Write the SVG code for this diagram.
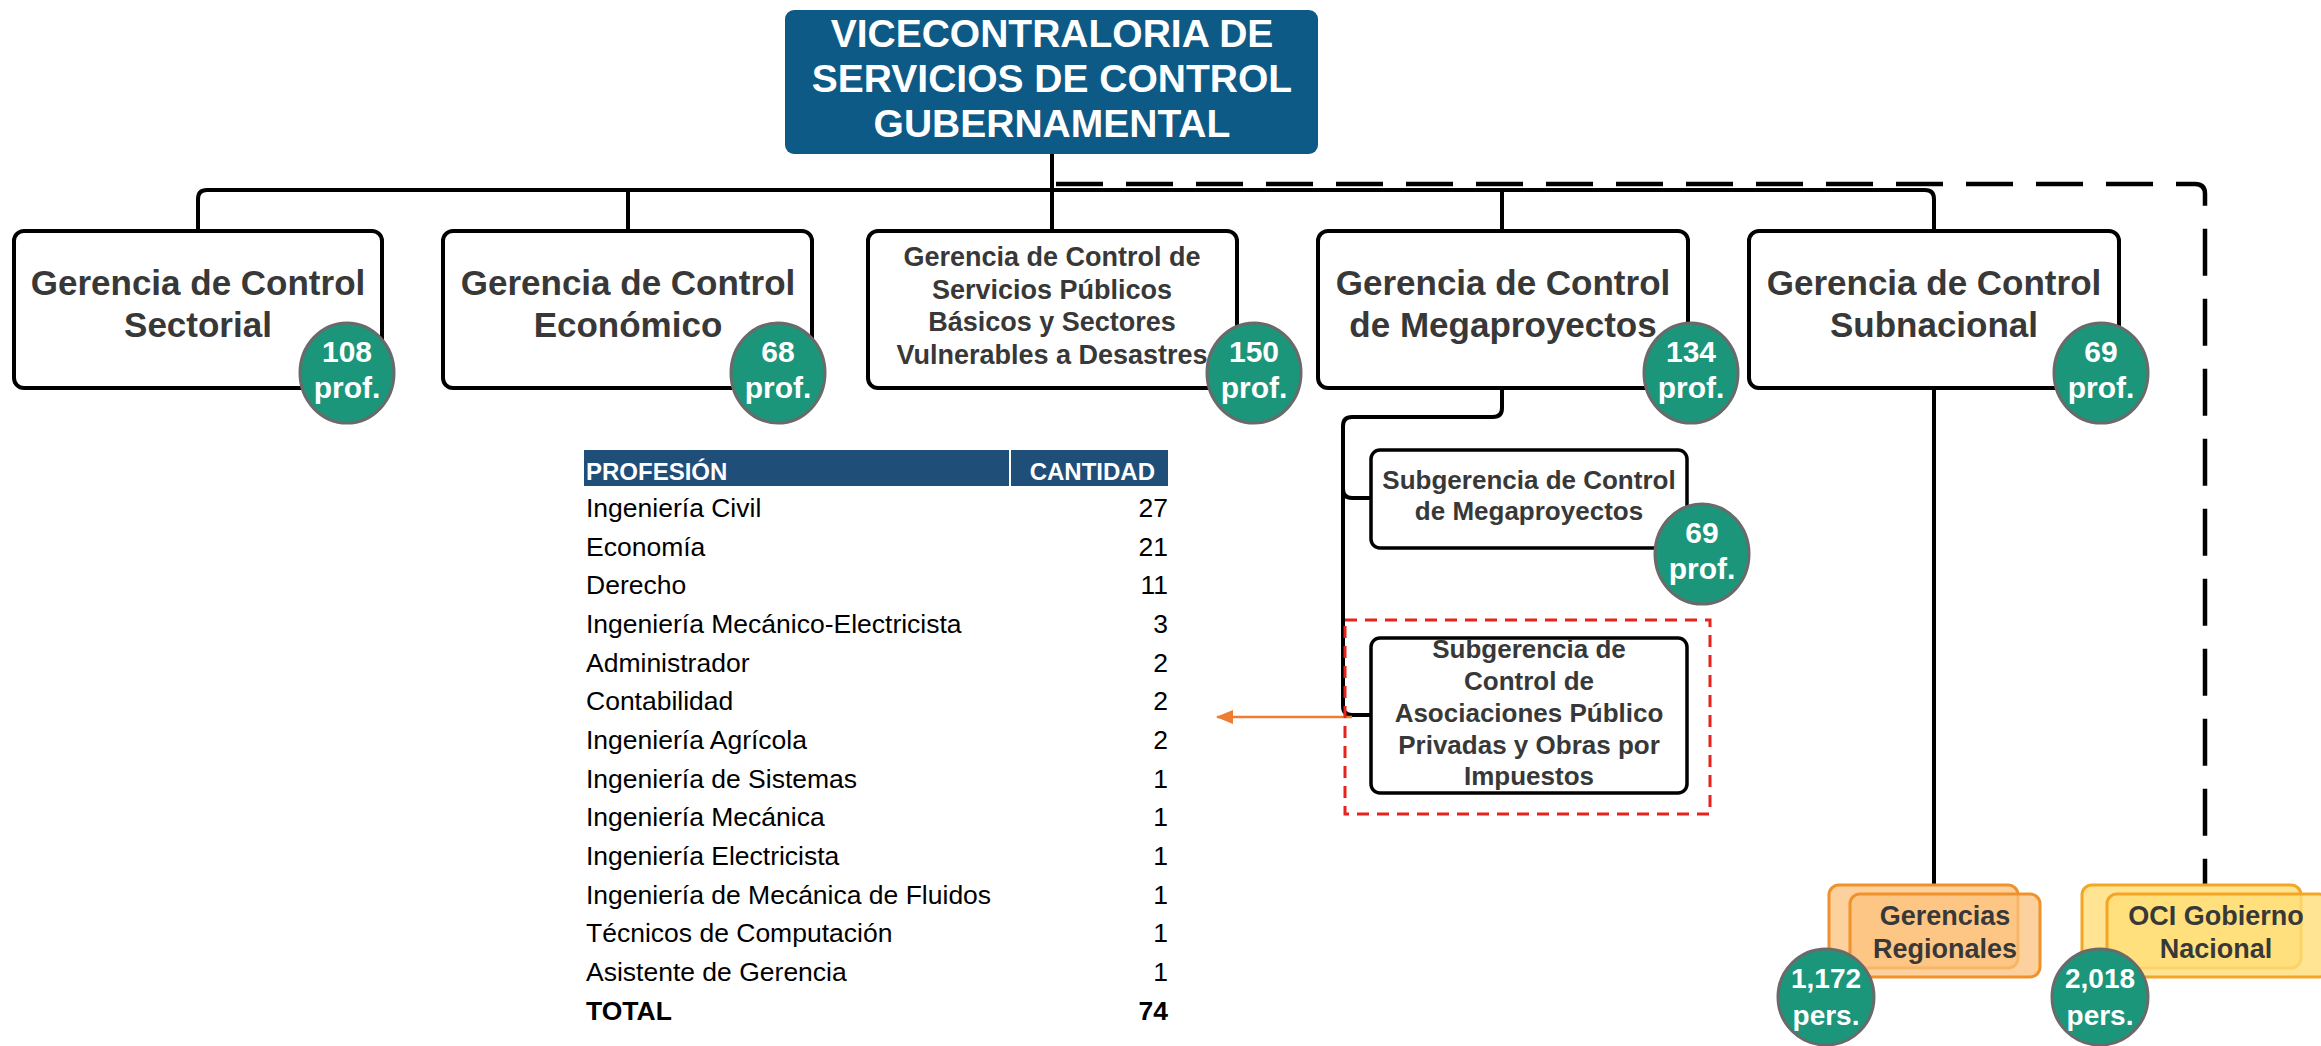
<svg xmlns="http://www.w3.org/2000/svg" width="2321" height="1046" viewBox="0 0 2321 1046">
<defs>
<style>
.t{font-family:"Liberation Sans",Arial,sans-serif}
.box{fill:#fff;stroke:#000;stroke-width:4}
.sub{fill:#fff;stroke:#000;stroke-width:3.5}
.lbl{font-family:"Liberation Sans",Arial,sans-serif;font-weight:bold;fill:#383838;text-anchor:middle}
.badge{fill:#1c967a;stroke:#6a6a6a;stroke-width:3}
.bt{font-family:"Liberation Sans",Arial,sans-serif;font-weight:bold;fill:#fff;text-anchor:middle}
.ln{fill:none;stroke:#000;stroke-width:4;stroke-linejoin:round}
.tb{font-family:"Liberation Sans",Arial,sans-serif;font-size:26.5px;fill:#000}
.num{text-anchor:end}
</style>
<marker id="ah" markerWidth="17" markerHeight="14" refX="16" refY="7" orient="auto" markerUnits="userSpaceOnUse">
<path d="M0,0 L17,7 L0,14 z" fill="#ed7d31"/>
</marker>
</defs>
<rect width="2321" height="1046" fill="#fff"/>

<g id="connectors">
<path class="ln" d="M1052,154 V231"/>
<path class="ln" d="M198,231 V199 Q198,190 207,190 H1925 Q1934,190 1934,199 V231"/>
<path class="ln" d="M628,190 V231"/>
<path class="ln" d="M1502,190 V231"/>
<path class="ln" d="M1502,388 V408 Q1502,417 1493,417 H1352 Q1343,417 1343,426 V706 Q1343,715 1352,715 H1371"/>
<path class="ln" d="M1343,489 Q1343,498 1352,498 H1371"/>
<path class="ln" d="M1934,388 V885"/>
<path fill="none" stroke="#000" stroke-width="4.5" stroke-dasharray="47 23" d="M1056,184 H2195 Q2205,184 2205,194 V885"/>
<line x1="1352" y1="717" x2="1217" y2="717" stroke="#ed7d31" stroke-width="2.5" marker-end="url(#ah)"/>
</g>

<g id="vicecontraloria">
<rect x="785" y="10" width="533" height="144" rx="9" fill="#0d5a86"/>
<text class="bt" font-size="39" x="1052"><tspan x="1052" y="47">VICECONTRALORIA DE</tspan><tspan x="1052" y="92">SERVICIOS DE CONTROL</tspan><tspan x="1052" y="137">GUBERNAMENTAL</tspan></text>
</g>

<g id="sectorial">
<rect class="box" x="14" y="231" width="368" height="157" rx="10"/>
<text class="lbl" font-size="35"><tspan x="198" y="295">Gerencia de Control</tspan><tspan x="198" y="337">Sectorial</tspan></text>
<ellipse class="badge" cx="347" cy="373" rx="47" ry="50"/>
<text class="bt" font-size="30"><tspan x="347" y="362">108</tspan><tspan x="347" y="398">prof.</tspan></text>
</g>

<g id="economico">
<rect class="box" x="443" y="231" width="369" height="157" rx="10"/>
<text class="lbl" font-size="35"><tspan x="628" y="295">Gerencia de Control</tspan><tspan x="628" y="337">Económico</tspan></text>
<ellipse class="badge" cx="778" cy="373" rx="47" ry="50"/>
<text class="bt" font-size="30"><tspan x="778" y="362">68</tspan><tspan x="778" y="398">prof.</tspan></text>
</g>

<g id="servicios">
<rect class="box" x="868" y="231" width="369" height="157" rx="10"/>
<text class="lbl" font-size="27"><tspan x="1052" y="266">Gerencia de Control de</tspan><tspan x="1052" y="299">Servicios Públicos</tspan><tspan x="1052" y="331">Básicos y Sectores</tspan><tspan x="1052" y="364">Vulnerables a Desastres</tspan></text>
<ellipse class="badge" cx="1254" cy="373" rx="47" ry="50"/>
<text class="bt" font-size="30"><tspan x="1254" y="362">150</tspan><tspan x="1254" y="398">prof.</tspan></text>
</g>

<g id="megaproyectos">
<rect class="box" x="1318" y="231" width="370" height="157" rx="10"/>
<text class="lbl" font-size="35"><tspan x="1503" y="295">Gerencia de Control</tspan><tspan x="1503" y="337">de Megaproyectos</tspan></text>
<ellipse class="badge" cx="1691" cy="373" rx="47" ry="50"/>
<text class="bt" font-size="30"><tspan x="1691" y="362">134</tspan><tspan x="1691" y="398">prof.</tspan></text>
</g>

<g id="subnacional">
<rect class="box" x="1749" y="231" width="370" height="157" rx="10"/>
<text class="lbl" font-size="35"><tspan x="1934" y="295">Gerencia de Control</tspan><tspan x="1934" y="337">Subnacional</tspan></text>
<ellipse class="badge" cx="2101" cy="373" rx="47" ry="50"/>
<text class="bt" font-size="30"><tspan x="2101" y="362">69</tspan><tspan x="2101" y="398">prof.</tspan></text>
</g>

<g id="sub-megaproyectos">
<rect class="sub" x="1371" y="450" width="316" height="98" rx="9"/>
<text class="lbl" font-size="26"><tspan x="1529" y="489">Subgerencia de Control</tspan><tspan x="1529" y="520">de Megaproyectos</tspan></text>
<ellipse class="badge" cx="1702" cy="554" rx="47" ry="50"/>
<text class="bt" font-size="30"><tspan x="1702" y="543">69</tspan><tspan x="1702" y="579">prof.</tspan></text>
</g>

<g id="sub-app">
<rect x="1345" y="620" width="365" height="194" fill="none" stroke="#e8221f" stroke-width="3" stroke-dasharray="12 8"/>
<rect class="sub" x="1371" y="638" width="316" height="155" rx="9"/>
<text class="lbl" font-size="26"><tspan x="1529" y="658">Subgerencia de</tspan><tspan x="1529" y="690">Control de</tspan><tspan x="1529" y="722">Asociaciones Público</tspan><tspan x="1529" y="754">Privadas y Obras por</tspan><tspan x="1529" y="785">Impuestos</tspan></text>
</g>

<g id="gerencias-regionales">
<rect x="1829" y="885" width="189" height="83" rx="10" fill="#fcc27c" fill-opacity="0.75" stroke="#f0922b" stroke-width="3"/>
<rect x="1850" y="894" width="190" height="83" rx="10" fill="#fcc27c" fill-opacity="0.75" stroke="#f0922b" stroke-width="3"/>
<text class="lbl" font-size="27"><tspan x="1945" y="925">Gerencias</tspan><tspan x="1945" y="958">Regionales</tspan></text>
<circle class="badge" cx="1826" cy="997" r="48"/>
<text class="bt" font-size="28"><tspan x="1826" y="988">1,172</tspan><tspan x="1826" y="1025">pers.</tspan></text>
</g>

<g id="oci">
<rect x="2082" y="885" width="219" height="83" rx="10" fill="#ffdf78" fill-opacity="0.8" stroke="#f5a524" stroke-width="3"/>
<rect x="2107" y="894" width="222" height="83" rx="10" fill="#ffdf78" fill-opacity="0.8" stroke="#f5a524" stroke-width="3"/>
<text class="lbl" font-size="27"><tspan x="2216" y="925">OCI Gobierno</tspan><tspan x="2216" y="958">Nacional</tspan></text>
<circle class="badge" cx="2100" cy="997" r="48"/>
<text class="bt" font-size="28"><tspan x="2100" y="988">2,018</tspan><tspan x="2100" y="1025">pers.</tspan></text>
</g>

<g id="tabla">
<rect x="584" y="450" width="425" height="36" fill="#1f4e79"/>
<rect x="1011" y="450" width="157" height="36" fill="#1f4e79"/>
<text class="t" font-size="24" font-weight="bold" fill="#fff" x="586" y="480">PROFESIÓN</text>
<text class="t" font-size="24" font-weight="bold" fill="#fff" x="1155" y="480" text-anchor="end">CANTIDAD</text>
<text class="tb" x="586" y="517">Ingeniería Civil</text><text class="tb num" x="1168" y="517">27</text>
<text class="tb" x="586" y="556">Economía</text><text class="tb num" x="1168" y="556">21</text>
<text class="tb" x="586" y="594">Derecho</text><text class="tb num" x="1168" y="594">11</text>
<text class="tb" x="586" y="633">Ingeniería Mecánico-Electricista</text><text class="tb num" x="1168" y="633">3</text>
<text class="tb" x="586" y="672">Administrador</text><text class="tb num" x="1168" y="672">2</text>
<text class="tb" x="586" y="710">Contabilidad</text><text class="tb num" x="1168" y="710">2</text>
<text class="tb" x="586" y="749">Ingeniería Agrícola</text><text class="tb num" x="1168" y="749">2</text>
<text class="tb" x="586" y="788">Ingeniería de Sistemas</text><text class="tb num" x="1168" y="788">1</text>
<text class="tb" x="586" y="826">Ingeniería Mecánica</text><text class="tb num" x="1168" y="826">1</text>
<text class="tb" x="586" y="865">Ingeniería Electricista</text><text class="tb num" x="1168" y="865">1</text>
<text class="tb" x="586" y="904">Ingeniería de Mecánica de Fluidos</text><text class="tb num" x="1168" y="904">1</text>
<text class="tb" x="586" y="942">Técnicos de Computación</text><text class="tb num" x="1168" y="942">1</text>
<text class="tb" x="586" y="981">Asistente de Gerencia</text><text class="tb num" x="1168" y="981">1</text>
<text class="tb" x="586" y="1020" font-weight="bold" font-size="24">TOTAL</text><text class="tb num" x="1168" y="1020" font-weight="bold" font-size="24">74</text>
</g>
</svg>
